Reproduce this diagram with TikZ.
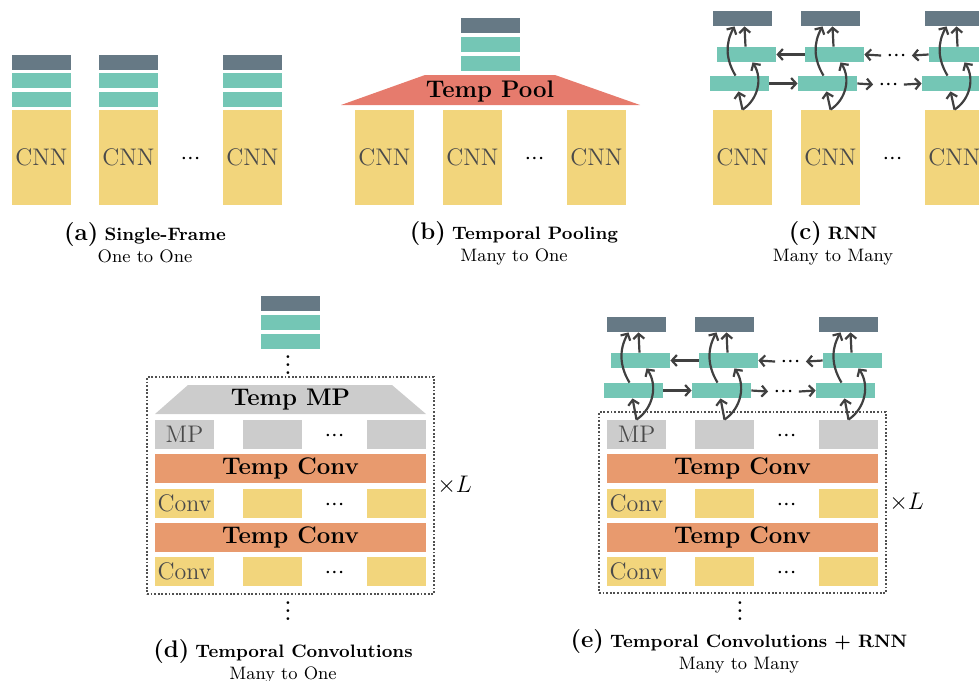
\documentclass[tikz,border=0pt]{standalone}
\usepackage{amsmath,amssymb,xcolor,tikz}
\usetikzlibrary{arrows.meta,positioning,calc}
\definecolor{outc}{HTML}{667985}
\definecolor{hidc}{HTML}{74C6B5}
\definecolor{cnnc}{HTML}{F2D57C}
\definecolor{poolc}{HTML}{E67B6D}
\definecolor{tcc}{HTML}{E89A6E}
\definecolor{mpc}{HTML}{CCCCCC}
\definecolor{txtc}{HTML}{4A4A4A}
\definecolor{arrc}{HTML}{404040}
\definecolor{frmc}{HTML}{505050}
\tikzset{
  bar/.style={rectangle, inner sep=0pt, minimum width=29.5pt, minimum height=7.5pt},
  outb/.style={bar, fill=outc},
  hidb/.style={bar, fill=hidc},
  cnnb/.style={rectangle, fill=cnnc, inner sep=0pt, minimum width=29.5pt, minimum height=47.5pt, font=\large, text=txtc},
  cellb/.style={rectangle, inner sep=0pt, minimum width=29.5pt, minimum height=14.5pt, font=\large, text=txtc},
  mpb/.style={cellb, fill=mpc},
  convb/.style={cellb, fill=cnnc},
  tconv/.style={rectangle, fill=tcc, inner sep=0pt, minimum width=135.5pt, minimum height=14.5pt, font=\large\bfseries},
  dots/.style={inner sep=2.5pt, font=\large},
  vdots/.style={inner sep=0pt, font=\Large},
  link/.style={-{Straight Barb[length=2.5pt,width=5.5pt]}, line width=1.1pt, draw=arrc},
  frame/.style={draw=frmc, line width=0.9pt, dash pattern=on 0.9pt off 0.9pt, inner sep=0pt},
  subcap/.style={align=center, font=\small, inner sep=0pt},
}
\newcommand{\rowdots}{${\cdotp}{\cdotp}{\cdotp}$}
\newcommand{\rnnlinks}[2]{%
  \draw[link] (#1B#2.north) -- ([xshift=-0.5pt]#1F#2.south);
  \draw[link] (#1B#2.north) to[bend right=45] ([xshift=3pt]#1U#2.south);
  \draw[link] ([xshift=-2pt]#1F#2.north) to[bend left=30] ([xshift=-4pt]#1D#2.south);
  \draw[link] ([xshift=-0.5pt]#1U#2.north) -- ([xshift=1pt]#1D#2.south);}
\newcommand{\convstack}[2]{%
  \node[tconv] (#1T1) at (#2,468.5) {Temp Conv};
  \node[tconv] (#1T2) at (#2,537) {Temp Conv};
  \foreach \dx [count=\k] in {-106,-18,106}{%
    \node[mpb] (#1B\k) at (#2+\dx,434.5) {};
    \node[convb] (#1P\k) at (#2+\dx,503) {};
    \node[convb] (#1Q\k) at (#2+\dx,571) {};}
  \node[text=txtc, font=\large] at (#1B1) {MP};
  \node[text=txtc, font=\large] at (#1P1) {Conv};
  \node[text=txtc, font=\large] at (#1Q1) {Conv};
  \node[dots] (#1Bdots) at (#2+44,436.5) {\rowdots};
  \node[dots] (#1Pdots) at (#2+44,505) {\rowdots};
  \node[dots] (#1Qdots) at (#2+44,573) {\rowdots};}

\begin{document}
\begin{tikzpicture}[x=0.5pt, y=-0.5pt]
  \useasboundingbox (0,0) rectangle (979,680);
  % (a)
  \foreach \x [count=\i] in {41.5,128.5,252.5}{%
    \node[outb] (aD\i) at (\x,62.5) {};
    \node[hidb] (aU\i) at (\x,80.5) {};
    \node[hidb] (aF\i) at (\x,99.5) {};
    \node[cnnb] (aB\i) at (\x,157.5) {CNN};}
  \node[dots] (aBdots) at (190.5,159.5) {\rowdots};
  \node[subcap] (capA) at (145,243) {\textbf{\large(a)} \textbf{Single-Frame}\\One to One};
  % (b)
  \foreach \x [count=\i] in {384.5,472.5,596.5}{%
    \node[cnnb] (bB\i) at (\x,157.5) {CNN};}
  \node[dots] (bBdots) at (534.5,159.5) {\rowdots};
  \fill[poolc] (341,105) -- (640,105) -- (555,75) -- (425,75) -- cycle;
  \node[font=\large\bfseries] (bPool) at (490,91) {Temp Pool};
  \node[outb] (bD) at (490.5,25.5) {};
  \node[hidb] (bU) at (490.5,44.5) {};
  \node[hidb] (bF) at (490.5,63.5) {};
  \node[subcap] (capB) at (514,243) {\textbf{\large(b)} \textbf{Temporal Pooling}\\Many to One};
  % (c)
  \foreach \x [count=\i] in {742.5,830.5,954.5}{%
    \node[outb] (cD\i) at (\x,18.5) {};
    \node[hidb] (cU\i) at (\x+4,54.5) {};
    \node[hidb] (cF\i) at (\x-3,83.5) {};
    \node[cnnb] (cB\i) at (\x,157.5) {CNN};
    \rnnlinks{c}{\i}}
  \node[dots] (cBdots) at (892.5,159.5) {\rowdots};
  \node[dots] (cUdots) at (896.5,56.5) {\rowdots};
  \node[dots] (cFdots) at (888.5,85.5) {\rowdots};
  \draw[link] (cF1.east) -- (cF2.west);
  \draw[link] (cF2.east) -- (cFdots);
  \draw[link] (cFdots) -- (cF3.west);
  \draw[link] (cU2.west) -- (cU1.east);
  \draw[link] (cUdots) -- (cU2.east);
  \draw[link] (cU3.west) -- (cUdots);
  \node[subcap] (capC) at (833,243) {\textbf{\large(c)} \textbf{RNN}\\Many to Many};
  % (d)
  \node[outb] (dD) at (290.5,303.5) {};
  \node[hidb] (dU) at (290.5,322.5) {};
  \node[hidb] (dF) at (290.5,341.5) {};
  \node[vdots] (dVtop) at (288,359) {$\vdots$};
  \node[frame, minimum width=143.5pt, minimum height=108.5pt] (dBox) at (290.5,485.5) {};
  \fill[mpc] (155,414) -- (426,414) -- (392,385) -- (188,385) -- cycle;
  \node[font=\large\bfseries] (dPool) at (290.5,400) {Temp MP};
  \convstack{d}{290.5}
  \node[right=0pt of dBox, font=\large, inner sep=1pt] (dL) {$\times L$};
  \node[vdots] (dVbot) at (288,605) {$\vdots$};
  \node[subcap] (capD) at (283,661) {\textbf{\large(d)} \textbf{Temporal Convolutions}\\Many to One};
  % (e)
  \node[frame, minimum width=143.5pt, minimum height=90.5pt] (eBox) at (742.5,502.5) {};
  \convstack{e}{742.5}
  \foreach \x [count=\i] in {636.5,724.5,848.5}{%
    \node[outb] (eD\i) at (\x,324.5) {};
    \node[hidb] (eU\i) at (\x+4,360.5) {};
    \node[hidb] (eF\i) at (\x-3,390.5) {};
    \rnnlinks{e}{\i}}
  \node[dots] (eUdots) at (790.5,362.5) {\rowdots};
  \node[dots] (eFdots) at (783.5,392.5) {\rowdots};
  \draw[link] (eF1.east) -- (eF2.west);
  \draw[link] (eF2.east) -- (eFdots);
  \draw[link] (eFdots) -- (eF3.west);
  \draw[link] (eU2.west) -- (eU1.east);
  \draw[link] (eUdots) -- (eU2.east);
  \draw[link] (eU3.west) -- (eUdots);
  \node[right=0pt of eBox, font=\large, inner sep=1pt] (eL) {$\times L$};
  \node[vdots] (eVbot) at (740,605) {$\vdots$};
  \node[subcap] (capE) at (739,651) {\textbf{\large(e)} \textbf{Temporal Convolutions + RNN}\\Many to Many};
\end{tikzpicture}
\end{document}
